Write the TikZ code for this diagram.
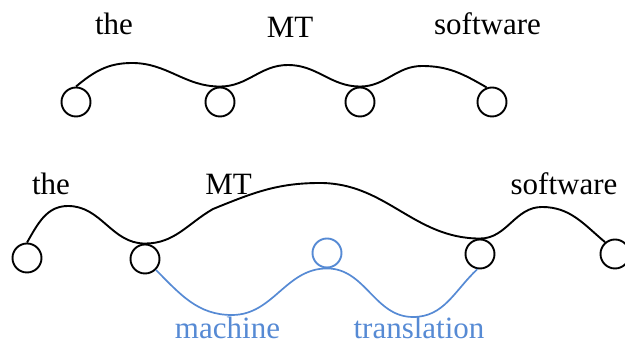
\documentclass[tikz,border=0pt]{standalone}
\usepackage{fontspec}
\setmainfont{Liberation Serif}
\newfontfamily\latfont{Liberation Serif}
\definecolor{latblue}{RGB}{86,138,212}
\begin{document}
\begin{tikzpicture}[x=1pt,y=1pt,
    state/.style={shape=circle,draw=black,line width=1.9pt,fill=none,minimum size=29pt,inner sep=0pt},
    word/.style={anchor=base,inner sep=0pt,text depth=0pt,font=\latfont\fontsize{31}{37}\selectfont},
    arc/.style={line width=1.9pt},
  ]
  \useasboundingbox (0,0) rectangle (625,344);
  % top lattice
  \foreach \x [count=\i] in {76,220,360,492}{
    \node[state] (t\i) at (\x,242) {};
  }
  \node[word] (tthe) at (114,309) {the};
  \node[word] (tmt) at (290,306.5) {MT};
  \node[word] (tsoft) at (487.5,309) {software};
  \draw[arc] (t1.north) to[out=40,in=180] (132,281) to[out=0,in=180] (t2.north)
    to[out=0,in=180] (288,279) to[out=0,in=180] (t3.north)
    to[out=0,in=180] (422,278) to[out=0,in=150] (t4.110);
  % bottom lattice
  \node[state] (b1) at (27,86) {};
  \node[state] (b2) at (145,85) {};
  \node[state] (b3) at (480,90) {};
  \node[state] (b4) at (615,90) {};
  \node[state,draw=latblue] (bm) at (327,91) {};
  \node[word] (bthe) at (51,149) {the};
  \node[word] (bmt) at (228.5,149) {MT};
  \node[word] (bsoft) at (564,149) {software};
  \node[word,text=latblue] (bmach) at (227.5,5.5) {machine};
  \node[word,text=latblue] (btrans) at (419,5.5) {translation};
  \draw[arc] (b1.north) to[out=60,in=180] (68,138) to[out=0,in=180] (b2.north)
    to[out=0,in=210] (213,135) to[out=22,in=180] (320,161) to[out=0,in=180] (b3.north)
    to[out=0,in=180] (542,137) to[out=0,in=140] (b4.130);
  \draw[arc,latblue,line width=1.7pt] (b2.-45) to[out=-45,in=180] (232,29) to[out=0,in=180] (bm.south)
    to[out=0,in=180] (413,27) to[out=0,in=-137] (b3.-100);
\end{tikzpicture}
\end{document}
